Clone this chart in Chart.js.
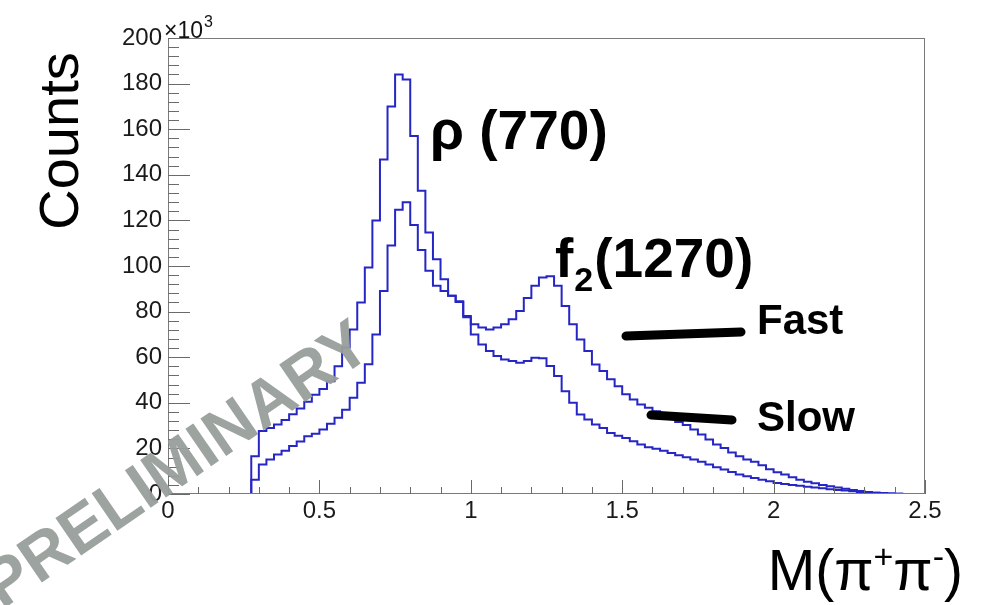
<!DOCTYPE html>
<html><head><meta charset="utf-8">
<script src="https://cdn.jsdelivr.net/npm/chart.js@4.4.1/dist/chart.umd.min.js"></script>
<style>html,body{margin:0;padding:0;background:#fff;}canvas{display:block;}</style>
</head><body>
<canvas id="c" width="985" height="605"></canvas>
<script>
// Bin edges of M(pi+pi-) histogram (GeV)
const binEdges = [0,0.025,0.05,0.075,0.1,0.125,0.15,0.175,0.2,0.225,0.25,0.275,0.3,0.325,0.35,0.375,0.4,0.425,0.45,0.475,
0.5,0.525,0.55,0.575,0.6,0.625,0.65,0.675,0.7,0.725,0.75,0.775,0.8,0.825,0.85,0.875,0.9,0.925,0.95,0.975,
1,1.025,1.05,1.075,1.1,1.125,1.15,1.175,1.2,1.225,1.25,1.275,1.3,1.325,1.35,1.375,1.4,1.425,1.45,1.475,
1.5,1.525,1.55,1.575,1.6,1.625,1.65,1.675,1.7,1.725,1.75,1.775,1.8,1.825,1.85,1.875,1.9,1.925,1.95,1.975,
2,2.025,2.05,2.075,2.1,2.125,2.15,2.175,2.2,2.225,2.25,2.275,2.3,2.325,2.35,2.375,2.4,2.425,2.45,2.475,2.5];
// Counts (x10^3) per bin
const fastCounts = [0,0,0,0,0,0,0,0,0,0,0,16.6,27.6,29,30.5,32.5,35,37.5,40.5,43.5,
46,49.5,56,64.2,72.2,84,99.3,120,146.7,170,184,181.8,157,133,114.7,103,94.2,87,84.5,78.1,
74.4,73,72.2,73,74.4,76.6,80.3,86,91.3,95,95.5,91.3,82.5,74.4,67.8,62.7,56.8,53.9,50.3,47.3,
43.7,41.5,39.3,37.8,36.3,34.6,33.1,31.6,30.3,28.3,26.1,23.9,21.7,20.2,18.2,16.6,15.1,14.1,12.6,10.9,
9.5,8.5,7.4,6.3,5.4,4.7,4.0,3.4,2.9,2.3,1.8,1.3,0.9,0.6,0.4,0.2,0.1,0.05,0,0];
const slowCounts = [0,0,0,0,0,0,0,0,0,0,0,6.3,12.9,15.1,17.3,19,21,23,25.3,26.4,
28.3,30.8,33.4,37,42.2,48.8,56.9,70,89,109,124.7,128,118,107,97.9,91.3,89,86.9,84.2,77.5,
70,65.6,62.7,60.5,59,58.3,57.6,58.3,59.8,59.5,56.1,51.7,45.1,40,34.9,32.7,30.5,29,26.8,25.6,
24.6,23.1,21.7,20.5,19.9,19,18,17,16.1,15.1,14.1,12.9,11.7,10.7,9.7,8.5,7.8,7,6.3,5.6,
4.8,4.4,4.0,3.6,3.2,2.8,2.5,2.1,1.8,1.5,1.2,0.9,0.7,0.5,0.35,0.2,0.1,0.05,0,0];
const xTickValues = [0,0.5,1,1.5,2,2.5];
const yTickValues = [0,20,40,60,80,100,120,140,160,180,200];

const FONT = '"Liberation Sans", Arial, Helvetica, sans-serif';
function toPoints(counts){
  const pts = counts.map((v,i)=>({x:binEdges[i], y:v}));
  pts.push({x:binEdges[binEdges.length-1], y:counts[counts.length-1]});
  return pts;
}

const decor = {
  id:'decor',
  afterDraw(chart){
    const ctx = chart.ctx, xs = chart.scales.x, ys = chart.scales.y, a = chart.chartArea;
    ctx.save();
    // frame
    ctx.strokeStyle = '#7a7a7a'; ctx.lineWidth = 1;
    ctx.strokeRect(Math.round(a.left)+0.5, Math.round(a.top)+0.5, Math.round(a.right-a.left)-1, Math.round(a.bottom-a.top)-1);
    // ticks
    ctx.strokeStyle = '#6a6a6a';
    ctx.beginPath();
    for(let v=0; v<=200.001; v+=4){
      const y = Math.round(ys.getPixelForValue(v))+0.5;
      const len = (Math.abs(v%20)<1e-6) ? 22 : 11;
      ctx.moveTo(a.left, y); ctx.lineTo(a.left+len, y);
    }
    for(let k=0; k<=25; k++){
      const v = k/10;
      const x = Math.round(xs.getPixelForValue(v))+0.5;
      const len = (k%5===0) ? 14 : 7;
      ctx.moveTo(x, a.bottom); ctx.lineTo(x, a.bottom-len);
    }
    ctx.stroke();

    ctx.fillStyle = '#111';
    // x10^3
    ctx.font = '23px '+FONT; ctx.textBaseline='alphabetic'; ctx.textAlign='left';
    ctx.fillText('\u00d710', 164, 38);
    let w = ctx.measureText('\u00d710').width;
    ctx.font = '16px '+FONT; ctx.fillText('3', 164+w+1, 27);

    // y title
    ctx.save();
    ctx.translate(78, 141); ctx.rotate(-Math.PI/2);
    ctx.font = '56px '+FONT; ctx.textAlign='center'; ctx.fillStyle='#000';
    ctx.fillText('Counts', 0, 0);
    ctx.restore();

    // x title M(π+π-)
    ctx.fillStyle='#000';
    const big = '57px '+FONT, sup = '34px '+FONT;
    const parts = [['M(\u03c0',big,0],['+',sup,-22],['\u03c0',big,0],['-',sup,-22],[')',big,0]];
    let total = 0;
    parts.forEach(p=>{ctx.font=p[1]; total += ctx.measureText(p[0]).width;});
    let xx = 963 - total;
    parts.forEach(p=>{ctx.font=p[1]; ctx.fillText(p[0], xx, 590+p[2]); xx += ctx.measureText(p[0]).width;});

    // peak labels
    ctx.font = 'bold 55px '+FONT;
    ctx.fillText('\u03c1 (770)', 430, 149);
    ctx.fillText('f', 555, 277);
    let fw = ctx.measureText('f').width;
    ctx.font = 'bold 34px '+FONT;
    ctx.fillText('2', 555+fw+1, 291);
    let sw = ctx.measureText('2').width;
    ctx.font = 'bold 55px '+FONT;
    ctx.fillText('(1270)', 555+fw+sw+2, 277);

    // legend-like markers
    ctx.font = 'bold 42px '+FONT;
    ctx.fillText('Fast', 757, 334);
    ctx.fillText('Slow', 757, 431);
    ctx.strokeStyle='#000'; ctx.lineWidth=9; ctx.lineCap='round';
    ctx.beginPath(); ctx.moveTo(626,336); ctx.lineTo(741,332); ctx.stroke();
    ctx.beginPath(); ctx.moveTo(651,415); ctx.lineTo(732,420); ctx.stroke();

    // watermark
    ctx.save();
    ctx.translate(2, 610); ctx.rotate(-34.5*Math.PI/180);
    ctx.font = 'bold 66px '+FONT; ctx.fillStyle='rgba(152,158,154,0.95)';
    ctx.textAlign='left';
    ctx.fillText('PRELIMINARY', 0, 0);
    ctx.restore();
    ctx.restore();
  }
};

new Chart(document.getElementById('c'), {
  type:'line',
  data:{datasets:[
    {label:'Fast', data:toPoints(fastCounts), stepped:'before', borderColor:'#2626c4', borderWidth:2, pointRadius:0, fill:false, tension:0},
    {label:'Slow', data:toPoints(slowCounts), stepped:'before', borderColor:'#2626c4', borderWidth:2, pointRadius:0, fill:false, tension:0}
  ]},
  options:{
    responsive:false, animation:false, devicePixelRatio:1,
    layout:{padding:{top:38,right:60,left:0,bottom:0}},
    plugins:{legend:{display:false}, tooltip:{enabled:false}},
    scales:{
      x:{type:'linear', min:0, max:2.5,
        grid:{display:false, drawTicks:false}, border:{display:false},
        afterBuildTicks:s=>{s.ticks = xTickValues.map(v=>({value:v}));},
        afterFit:s=>{s.height = 111;},
        ticks:{padding:3, autoSkip:false, maxRotation:0, color:'#1a1a1a', font:{family:FONT,size:24}, callback:v=>String(v)}},
      y:{type:'linear', min:0, max:200,
        grid:{display:false, drawTicks:false}, border:{display:false},
        afterBuildTicks:s=>{s.ticks = yTickValues.map(v=>({value:v}));},
        afterFit:s=>{s.width = 168;},
        ticks:{padding:6, color:'#1a1a1a', font:{family:FONT,size:24}, callback:v=>String(v)}}
    }
  },
  plugins:[decor]
});
</script>
</body></html>
